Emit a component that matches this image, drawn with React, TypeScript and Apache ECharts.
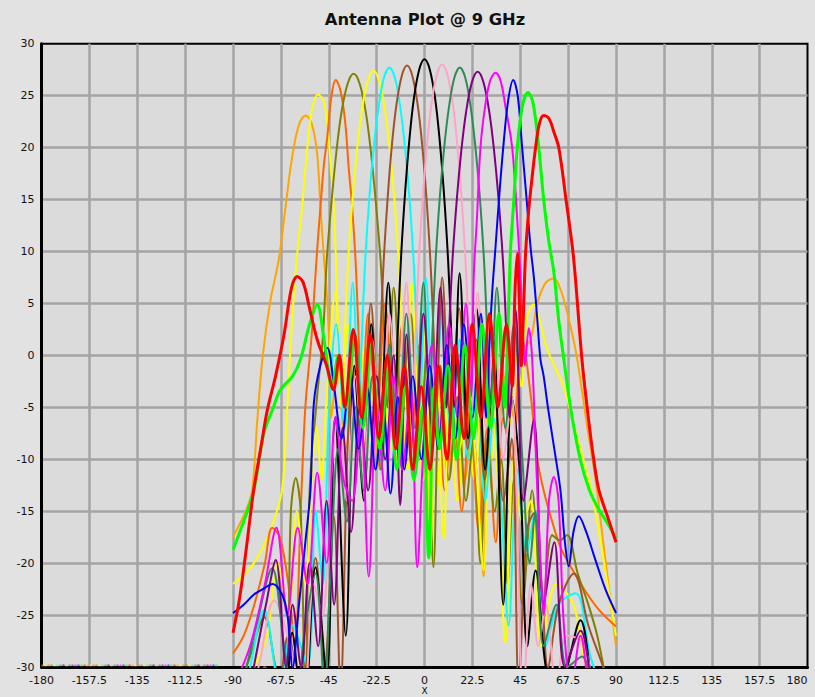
import React, { useEffect, useRef } from "react";
import * as echarts from "echarts";

const chartTitle = "Antenna Plot @ 9 GHz";
const xAxisName = "X";

// Beam patterns (angle in degrees, gain in dB)
const beamOrange = [
  [-90, -17.5], [-87, -16.3], [-84, -15], [-81, -13], [-78.5, -6], [-76, 0], [-72.4, 5.3], [-68.5, 9.2], [-65.3, 14.3],
  [-62.2, 19.1], [-59, 22.2], [-55.9, 23.1], [-53, 22.3], [-50.5, 19.5], [-48.9, 14.3], [-47.3, 9.5], [-45.7, 5.3],
  [-44.6, 0], [-43.8, -6], [-41, -1], [-37, -9], [-33, -2], [-29, -10], [-25, -3], [-21, -11], [-17, -3], [-13, -10],
  [-9, -2], [-5, -9], [-1, -2], [3, -10], [7, -3], [11, -12], [15, -4], [19, -12], [23, -4], [25.5, -8], [27.8, -21.3],
  [30.5, -4], [34, -9], [38, -2], [42, -6], [45.1, 0.2], [49.8, 1.5], [53, 5], [57, 7], [60.8, 7.4], [64.5, 6],
  [68.6, 2.8], [71.8, -0.4], [76.5, -6.9], [80.4, -12], [84, -18], [87, -23], [90, -28],
];
const beamYellowA = [
  [-90, -22], [-82, -20.5], [-76, -18.5], [-71, -16], [-67, -13], [-65, -7], [-63.5, -1], [-62, 4], [-60.6, 8],
  [-59, 11.5], [-57.5, 14.3], [-55.5, 19], [-53, 23.5], [-50, 25.1], [-47.5, 24.5], [-45.5, 22], [-44, 18], [-42.6, 14.3],
  [-41.6, 9], [-41, 5.3], [-40.3, 1], [-39, -5], [-36, 3], [-32, -7], [-28, 1], [-24, -8], [-20, 0], [-16, -9],
  [-12, -2], [-8, -11], [-4, -3], [-0.5, -12], [3.5, -4], [7.5, -13], [11.5, -5], [15.5, -14], [19.5, -5], [23.5, -12],
  [27.5, -3], [31.5, -10], [35.5, -1], [39.5, -7], [43, 0], [45.5, -3], [48, 3.5], [51.3, 4.9], [54, 3.5], [57, 1],
  [61, -1], [65.4, -3], [70, -6.5], [74, -9.5], [78, -12.6], [82, -17], [86, -22], [90, -27],
];
const beamOrangeRed = [
  [-90, -28.7], [-85, -27], [-80, -24], [-75, -20], [-71.6, -16.6], [-68, -17.5], [-64, -22], [-61, -28], [-58, -14],
  [-56, -5], [-53, 2], [-52, 5.3], [-50.5, 10], [-48.9, 14.3], [-47.2, 18.5], [-45.7, 21], [-43.7, 25], [-41.7, 26.5],
  [-39.5, 25.5], [-37.3, 22.5], [-35.6, 18], [-34, 14.3], [-32.5, 9.5], [-31.6, 5.3], [-30.8, 1], [-29.5, -5],
  [-26.5, 4], [-22.5, -6], [-18.5, 5], [-14.5, -7], [-10.5, 3], [-6.5, -9], [-2.5, 1], [1.5, -11], [5.5, -2],
  [9.5, -13], [13.5, -4], [17.5, -15], [21.5, -5], [25.5, -17], [29.5, -7], [33.5, -18], [37, -6], [41, -10],
  [46, 1.5], [50, -4], [53, -10], [56, -13], [60, -16], [64, -18.5], [68.6, -20.3], [75, -22.5], [82, -24.5], [90, -26.1],
];
const beamOlive = [
  [-90, -34], [-82, -29], [-75.3, -25.2], [-70, -30], [-65.3, -34], [-62.8, -15], [-60.5, -11.8], [-58.2, -15], [-56, -34],
  [-54, -13], [-50.5, -4], [-47.7, 2], [-46, 9], [-43.6, 15], [-41.4, 19.6], [-39.1, 23.3], [-36.2, 26.1], [-33.3, 27.1],
  [-30.4, 26.1], [-27.5, 23.3], [-25.2, 19.6], [-23, 15], [-20.6, 9], [-18.9, 2], [-17.5, -5], [-14.5, 6.5],
  [-10.5, -6], [-6.5, 4], [-2.5, -9], [1, 0], [4.2, -20.4], [7.5, -1], [11.5, -12], [15.5, -4], [19.5, -14], [23, -8],
  [26.3, -20], [29.5, -8], [33, -15], [36, -10], [39, -22], [42, -12], [46, -24], [50.6, -13], [55, -26], [60, -17.3],
  [63.5, -17.8], [67, -17.3], [72, -21], [77, -24], [81.2, -27], [86, -32], [90, -36],
];
const beamYellowB = [
  [-90, -35], [-86, -33], [-80, -30], [-74, -27], [-69, -20], [-64, -25], [-60, -15], [-56, -22], [-53, -12],
  [-50.6, -6.9], [-48.5, -12], [-46, -4], [-42, 6], [-39, -5], [-37.5, 2], [-35.9, 9], [-33.7, 15.4], [-31.6, 20],
  [-29.4, 23.6], [-26.7, 26.4], [-24, 27.4], [-21.3, 26.4], [-18.6, 23.6], [-16.4, 20], [-14.3, 15.4], [-12.1, 9],
  [-10.5, 2], [-9, -5], [-6, 7], [-2.5, -6], [0.5, 3], [2.8, -19], [5.5, 2], [9, -17.7], [12.5, 1], [16.5, -9],
  [20.5, -2], [24, -10], [27.8, -20.7], [31, -4], [34.5, -12], [38, -27.7], [42, -10], [46, -16], [50, -14], [55, -28],
  [62, -22], [70, -24], [76, -30], [83, -33], [90, -35],
];
const beamCyan = [
  [-90, -36], [-83, -31], [-75.3, -24.5], [-68, -32], [-62, -26], [-55, -30], [-51.2, -14.9], [-47.8, -22], [-45, -6],
  [-41.5, 3], [-37.5, -7], [-33.7, 7], [-30.8, -5], [-29.4, 2], [-27.9, 9], [-25.8, 15.5], [-23.7, 20.3], [-21.6, 23.9],
  [-19.1, 26.7], [-16.5, 27.7], [-13.9, 26.7], [-11.4, 23.9], [-9.3, 20.3], [-7.2, 15.5], [-5.1, 9], [-3.6, 2],
  [-2.2, -5], [0.6, 7.5], [4.5, -7], [8.5, 4.5], [12.5, -8], [16.5, 1.5], [20.5, -10], [24.5, -2], [28.5, -14],
  [32.5, -6], [36.5, -16], [39.5, -26], [43.7, -11], [48, -19], [52, -15], [57, -28], [63, -24], [71, -22.9], [78, -29],
  [85, -33], [90, -36],
];
const beamBrown = [
  [-90, -40], [-82, -34], [-75, -30], [-70, -34], [-64, -27], [-58, -33], [-51.2, -19.5], [-47, -30], [-42.6, -15.5],
  [-39.5, -32], [-36, -8], [-32.5, 2], [-29, -7], [-25.2, 5], [-22, -4], [-20.7, 2], [-19.2, 9], [-17.2, 15.5],
  [-15.2, 20.5], [-13.2, 24.1], [-10.7, 26.9], [-8.2, 27.9], [-5.7, 26.9], [-3.2, 24.1], [-1.2, 20.5], [0.8, 15.5],
  [2.8, 9], [4.3, 2], [5.5, -5], [8.3, 7.5], [12.2, -6], [16.3, 4.5], [20.3, -9], [24.3, 1.5], [28.3, -12], [32.5, -2],
  [37, -14], [41, -8], [44.3, -32], [48, -17], [51.4, -15.2], [55, -22], [58, -30], [63, -24], [70.2, -21], [77, -26],
  [84, -30], [90, -34],
];
const beamBlack = [
  [-90, -42], [-84, -36], [-78, -32], [-73, -34], [-67, -38], [-62.2, -26.7], [-57, -36], [-51.2, -20.4], [-46, -31],
  [-42, -6], [-37, -27], [-33, -1], [-28.5, -14], [-25, 3], [-21, -7], [-17, 7], [-13.8, -4], [-12.5, 2.5], [-11, 9.5],
  [-9, 16], [-7, 21], [-5, 24.7], [-2.5, 27.5], [0, 28.5], [2.5, 27.5], [5, 24.7], [7, 21], [9, 16], [11, 9.5],
  [12.5, 2.5], [13.8, -5], [16.5, 7.9], [20.5, -8], [24.5, 4.5], [28.5, -11], [32.5, 1.5], [37, -24], [41, -4],
  [45, -12], [48.3, -28], [52.2, -20.7], [57, -30], [62, -33], [67, -30], [73.3, -25.5], [79, -32], [85, -38], [90, -42],
];
const beamPink = [
  [-90, -38], [-85, -35], [-78, -30], [-70.6, -23.6], [-63, -28], [-57, -34], [-52, -22], [-48, -25], [-44, -12],
  [-40.5, -6], [-36.5, -14], [-32.5, -2], [-28.5, -11], [-24.5, 1.5], [-20.5, -9], [-16.5, 4], [-12.5, -6], [-8.5, 7],
  [-5.5, -5], [-4.2, 2], [-2.7, 9], [-0.7, 15.5], [1.3, 20.5], [3.3, 24.2], [5.8, 27], [8.3, 28], [10.8, 27],
  [13.3, 24.2], [15.3, 20.5], [17.3, 15.5], [19.3, 9], [20.8, 2], [22.2, -5], [25, 6], [29, -7], [33, 3], [37, -10],
  [41, -4], [46.5, -33], [50, -22], [53.5, -28], [57, -24], [62, -32], [67, -27], [74.7, -27.7], [80, -33], [90, -40],
];
const beamSeaGreen = [
  [-90, -34], [-85, -31], [-79, -26], [-71.6, -20.5], [-66, -28], [-61, -34], [-56, -26], [-51.2, -21], [-47, -32],
  [-44, -20], [-40.5, -9], [-36.5, -16], [-32.5, -5], [-28.5, -13], [-24.5, -2], [-20.5, -11], [-16.5, 1], [-12.5, -9],
  [-8.5, 4], [-4.5, -7], [-0.5, 7], [2.4, -5], [3.7, 2], [5.2, 9], [7.3, 15.5], [9.4, 20.3], [11.5, 23.9], [14, 26.7],
  [16.6, 27.7], [19.2, 26.7], [21.7, 23.9], [23.8, 20.3], [25.9, 15.5], [28, 9], [29.5, 2], [31, -5], [34, 6.5],
  [38, -7], [42, 3], [46, -10], [49.5, -20], [52, -15], [56, -28], [62, -24], [67, -30], [74, -29], [80, -34], [90, -40],
];
const beamPurple = [
  [-90, -38], [-84, -34], [-79.3, -29], [-74.5, -24], [-69.9, -19.7], [-65, -30], [-62, -24], [-58, -30], [-54, -20],
  [-50, -28], [-46, -14], [-42.5, -24], [-38.5, -7], [-34.5, -17], [-30.5, -5], [-26.5, -13], [-22.5, -2], [-18.5, -10],
  [-14.5, 0], [-11.4, -14.4], [-8.5, 2], [-4.5, -9], [-0.5, 4], [3.5, -7], [7.5, 6.5], [10.3, -5], [11.5, 2], [13.1, 9],
  [15.3, 15.3], [17.4, 19.9], [19.6, 23.5], [22.3, 26.3], [25, 27.3], [27.7, 26.3], [30.4, 23.5], [32.6, 19.9],
  [34.7, 15.3], [36.9, 9], [38.5, 2], [40, -6], [42.8, 4.4], [46.5, -14], [51.4, -6.2], [56, -24], [61, -18], [66, -30],
  [73.3, -26.5], [79, -32], [85, -36], [90, -40],
];
const beamMagenta = [
  [-90, -32], [-82, -28], [-75, -22], [-69.6, -16.6], [-64.5, -25], [-59.6, -16.6], [-55, -22], [-50.4, -11.3],
  [-46, -20], [-41.8, -5.9], [-38, -12], [-34, -14], [-30, -6], [-26.2, -21.3], [-22.5, -5], [-18.5, -13], [-14.5, -2],
  [-10.5, -11], [-6.5, -3], [-3.4, -20.4], [-0.5, -9], [3.5, 1], [7.5, -8], [11.5, 3], [15.5, -6], [19.5, 5],
  [21.8, -4], [23.2, 7.9], [24.6, 13], [26.3, 20], [28.5, 24], [30.8, 26.4], [33.4, 27.2], [35.8, 26.4], [38, 24],
  [41.2, 20], [43.3, 14], [45, 8], [46.3, 2], [47.2, -1], [49, 2.6], [50.5, 0], [52.2, -8.8], [54.5, -20], [56, -25],
  [58.5, -14], [60.8, -11.7], [63, -14], [65.5, -26], [69, -32], [73.3, -27], [78, -33], [84, -37], [90, -40],
];
const beamBlue = [
  [-90, -24.8], [-85, -24], [-80, -23], [-76, -22.5], [-71.4, -22], [-67, -23], [-64.4, -25], [-62, -30], [-59, -24],
  [-56, -18], [-53.6, -13], [-52, -4.6], [-49, -1], [-45.7, 0.7], [-42.5, -3], [-39, -8], [-35, -2], [-31, -9],
  [-27, -3], [-23, -11], [-19.5, -5], [-16, -13.3], [-12.5, -4], [-9.5, -11], [-5.5, -2], [-1.5, -10], [2.5, -1],
  [6.5, -9], [10.5, 1], [14.5, -8], [18.5, 3], [22.5, -6], [26.5, 4], [29, -6], [30.5, 1], [31.8, 6], [33.4, 10.5],
  [35, 15], [37, 20], [39.3, 24.5], [41.7, 26.5], [43.8, 25], [45.9, 20], [48, 15], [49.8, 10.5], [51.4, 7.5], [53, 3.5],
  [54.5, -0.4], [56, -2], [58, -5], [61, -9], [63.9, -13], [66, -18], [67.8, -20.3], [70, -17], [72.5, -15.5], [76, -17],
  [80, -19.5], [85, -22.5], [90, -24.8],
];
const beamLime = [
  [-90, -18.7], [-85, -16], [-80.2, -13], [-75.5, -7.5], [-71, -5], [-67.7, -3.3], [-62, -2], [-58.3, -0.4], [-54, 3],
  [-50.4, 4.9], [-47.4, 1.8], [-43.5, -3], [-40.5, 0], [-37, -5], [-33, 1.5], [-29, -7], [-25, 1], [-21, -9], [-17, -1],
  [-13, -11], [-9, -3], [-5, -12], [-1, -5], [2, -19.5], [4.5, -3], [7, -9], [11, -1], [15, -10], [19, 1], [23, -8],
  [27, 3], [31, -7], [35, 4], [37.8, -5], [39, 1], [39.6, 5], [40.4, 10], [42, 15], [43.6, 20], [46, 24], [48.6, 25.3],
  [51, 24.3], [53.7, 20], [56, 15], [58.4, 11], [60.8, 8], [63, 3.5], [65.5, -0.4], [69, -5.5], [73.3, -10.1],
  [77.2, -12.8], [81, -14.5], [85.5, -16], [90, -17.6],
];
const beamRed = [
  [-90, -26.7], [-87, -23.5], [-84, -19], [-80.3, -13], [-77, -9], [-73.9, -5.3], [-70, -2], [-66, 2], [-62.5, 6.5],
  [-59.8, 7.6], [-57, 7], [-54, 4.5], [-50.4, 1.5], [-46, -1], [-42.8, -3.3], [-40, 0], [-37.5, -5], [-33.5, 2.5],
  [-29.5, -6], [-25.5, 2], [-21.5, -8], [-17.5, 0], [-13.5, -9], [-9.5, -1], [-5.5, -11], [-1.5, -3], [2.5, -11],
  [6.5, -1], [10.5, -10], [14.5, 1], [18.5, -8], [22.5, 3], [26.5, -6], [30.5, 4], [34.5, -5], [38.5, 3], [41.2, -3],
  [42.5, 6], [43.6, 9.8], [44.6, 5], [45.5, -1], [46.5, 4], [47.5, 9.8], [49, 14], [50.5, 17], [52.2, 20], [54, 22.3],
  [56, 23.1], [58.5, 22.8], [60.8, 21.5], [63.1, 20], [66.5, 15], [70, 9.5], [74, -0.4], [77, -6], [79.6, -10.1],
  [82, -13], [86, -15.5], [90, -18],
];
// Clamped trace along the floor of the plot for angles below -90
const floorTrace = [[-180, -29.85], [-97, -29.85]];

const beamList = [
  { data: beamOrange, color: "#FFA500", width: 2 },
  { data: beamYellowA, color: "#FFFF00", width: 2 },
  { data: beamOrangeRed, color: "#FF6600", width: 2 },
  { data: beamOlive, color: "#808000", width: 2 },
  { data: beamYellowB, color: "#FFFF00", width: 2 },
  { data: beamCyan, color: "#00FFFF", width: 2 },
  { data: beamBrown, color: "#A0522D", width: 2 },
  { data: beamBlack, color: "#000000", width: 2 },
  { data: beamPink, color: "#FFA3C8", width: 2 },
  { data: beamSeaGreen, color: "#2E8B57", width: 2 },
  { data: beamPurple, color: "#800080", width: 2 },
  { data: beamMagenta, color: "#FF00FF", width: 2 },
  { data: beamBlue, color: "#0000FF", width: 2 },
  { data: beamLime, color: "#00FF00", width: 3 },
  { data: beamRed, color: "#FF0000", width: 3 },
];

const FONT = "'DejaVu Sans', Verdana, sans-serif";

export default function App() {
  const ref = useRef<HTMLDivElement>(null);
  useEffect(() => {
    document.body.style.margin = "0";
    if (!ref.current) return;
    const chart = echarts.init(ref.current, null, { renderer: "svg" });
    const floorSeries = beamList.map((b, i) => ({
      type: "line",
      data: floorTrace,
      symbol: "none",
      silent: true,
      z: 2,
      lineStyle: { color: b.color, width: 2, type: [2, 43], dashOffset: -3 * i, opacity: 0.6 },
    }));
    const beamSeries = beamList.map((b) => ({
      type: "line",
      data: b.data,
      symbol: "none",
      showSymbol: false,
      smooth: 0.35,
      silent: true,
      clip: true,
      z: 3,
      lineStyle: { color: b.color, width: b.width },
      itemStyle: { color: b.color },
    }));
    chart.setOption({
      animation: false,
      backgroundColor: "#e2e2e2",
      grid: {
        left: 41.5,
        right: 7.5,
        top: 43.7,
        bottom: 30,
        containLabel: false,
        outerBoundsMode: "none",
        show: true,
        backgroundColor: "#dbdbdb",
        borderColor: "#000",
        borderWidth: 2,
      },
      graphic: [
        {
          type: "text",
          x: 425,
          y: 19,
          style: {
            text: chartTitle,
            font: "bold 16.3px 'DejaVu Sans', Verdana, sans-serif",
            fill: "#111",
            align: "center",
            verticalAlign: "middle",
          },
        },
      ],
      xAxis: {
        type: "value",
        min: -180,
        max: 180,
        interval: 22.5,
        name: xAxisName,
        nameLocation: "middle",
        nameGap: 19.5,
        nameMoveOverlap: false,
        nameTextStyle: { fontSize: 9, fontFamily: FONT, color: "#111", lineHeight: 9 },
        axisLine: { show: true, onZero: false, lineStyle: { color: "#000", width: 3 } },
        axisTick: { show: false },
        axisLabel: {
          fontSize: 11,
          lineHeight: 11,
          fontFamily: FONT,
          color: "#111",
          margin: 8,
          alignMaxLabel: "right",
        },
        splitLine: {
          show: true,
          showMinLine: false,
          showMaxLine: false,
          lineStyle: { color: "#a4a4a4", width: 2.5 },
        },
      },
      yAxis: {
        type: "value",
        min: -30,
        max: 30,
        interval: 5,
        axisLine: { show: true, onZero: false, lineStyle: { color: "#000", width: 3 } },
        axisTick: { show: false },
        axisLabel: { fontSize: 11, fontFamily: FONT, color: "#111", margin: 7 },
        splitLine: {
          show: true,
          showMinLine: false,
          showMaxLine: false,
          lineStyle: { color: "#a4a4a4", width: 2.5 },
        },
      },
      series: [...floorSeries, ...beamSeries],
    });
    return () => chart.dispose();
  }, []);
  return <div ref={ref} style={{ width: 815, height: 697 }} />;
}
